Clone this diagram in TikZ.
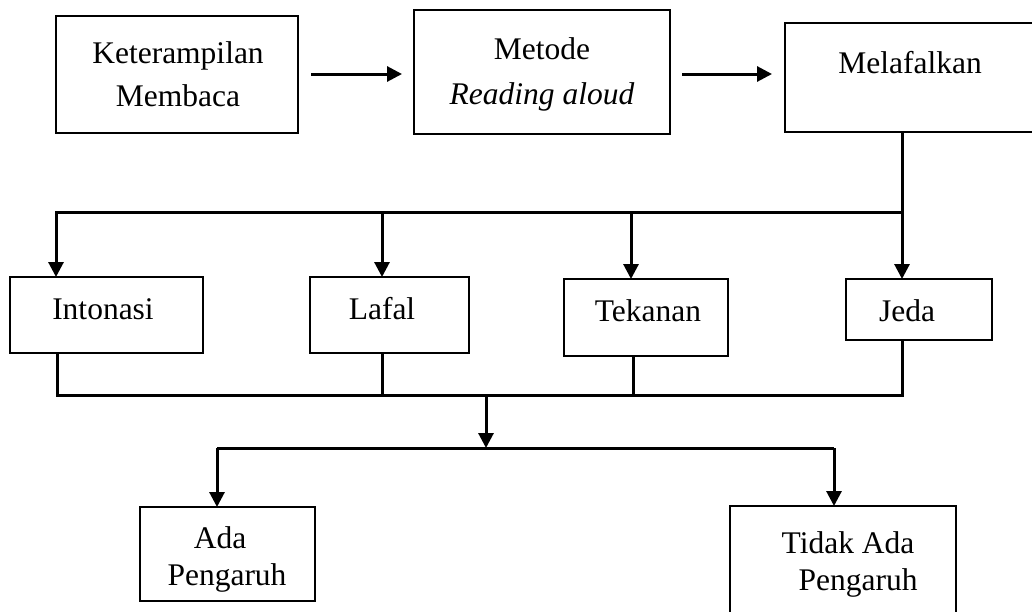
\documentclass[tikz,border=0pt]{standalone}
\usepackage{fontspec}
\setmainfont{Liberation Serif}
\usetikzlibrary{arrows.meta,positioning,calc}
\begin{document}
\begin{tikzpicture}[x=1pt,y=-1pt,
  box/.style={draw,line width=1.8pt,inner sep=0pt,outer sep=0pt},
  lbl/.style={font=\fontsize{31.5}{43}\selectfont,inner sep=0pt,anchor=base},
  conn/.style={line width=3pt},
  arr/.style={line width=3pt,-{Triangle[length=15pt,width=15pt]}}]
\useasboundingbox (0,0) rectangle (1032,611);
% top row boxes
\node[box,minimum width=242pt,minimum height=117pt] (b1) at (177,74.5) {};
\node[box,minimum width=256pt,minimum height=124pt] (b2) at (542,72) {};
\node[box,minimum width=260pt,minimum height=109pt] (b3) at (915,77.5) {};
\node[lbl] (t1a) at (178,63) {Keterampilan};
\node[lbl] (t1b) at (178,106) {Membaca};
\node[lbl] (t2a) at (542,59) {Metode};
\node[lbl] (t2b) at (542,104) {\itshape Reading aloud};
\node[lbl] (t3) at (910,73) {Melafalkan};
% top arrows
\coordinate (a1s) at (311,74);
\coordinate (a1e) at (402,74);
\coordinate (a2s) at (682,74);
\coordinate (a2e) at (772,74);
\draw[arr] (a1s) -- (a1e);
\draw[arr] (a2s) -- (a2e);
% second row
\node[box,minimum width=193pt,minimum height=76pt] (n1) at (106.5,315) {};
\node[box,minimum width=159pt,minimum height=76pt] (n2) at (389.5,315) {};
\node[box,minimum width=164pt,minimum height=77pt] (n3) at (646,317.5) {};
\node[box,minimum width=146pt,minimum height=61pt] (n4) at (919,309.5) {};
\node[lbl] (l1) at (103,319) {Intonasi};
\node[lbl] (l2) at (382,319) {Lafal};
\node[lbl] (l3) at (648,321) {Tekanan};
\node[lbl] (l4) at (907,321) {Jeda};
% bus from Melafalkan
\coordinate (m) at (902,132);
\coordinate (j1) at (902,212);
\coordinate (j0) at (56,212);
\coordinate (j2) at (382,212);
\coordinate (j3) at (631,212);
\draw[conn] (m) -- (j1);
\draw[conn,line cap=rect] (j0) -- (j1);
\draw[arr] (j0) -- (j0 |- n1.north);
\draw[arr] (j2) -- (j2 |- n2.north);
\draw[arr] (j3) -- (j3 |- n3.north);
\draw[arr] (j1) -- (j1 |- n4.north);
% bus below second row
\coordinate (k0) at (57,395);
\coordinate (k2) at (382,395);
\coordinate (k3) at (633,395);
\coordinate (k4) at (902,395);
\coordinate (kc) at (486,395);
\draw[conn] (k0 |- n1.south) -- (k0) -- (k4) -- (k4 |- n4.south);
\draw[conn] (k2 |- n2.south) -- (k2);
\draw[conn] (k3 |- n3.south) -- (k3);
\coordinate (kd) at (486,448);
\draw[arr] (kc) -- (kd);
% bottom
\node[box,minimum width=175pt,minimum height=94pt] (r1) at (227.5,554) {};
\node[box,minimum width=226pt,minimum height=120pt] (r2) at (843,566) {};
\node[lbl] (r1a) at (220,548) {Ada};
\node[lbl] (r1b) at (227,585) {Pengaruh};
\node[lbl] (r2a) at (848,553) {Tidak Ada};
\node[lbl] (r2b) at (858,590) {Pengaruh};
\coordinate (p1) at (217,448);
\coordinate (p2) at (834,448);
\draw[conn] (p1) -- (p2);
\draw[arr] (p1) -- (p1 |- r1.north);
\draw[arr] (p2) -- (p2 |- r2.north);
\end{tikzpicture}
\end{document}
